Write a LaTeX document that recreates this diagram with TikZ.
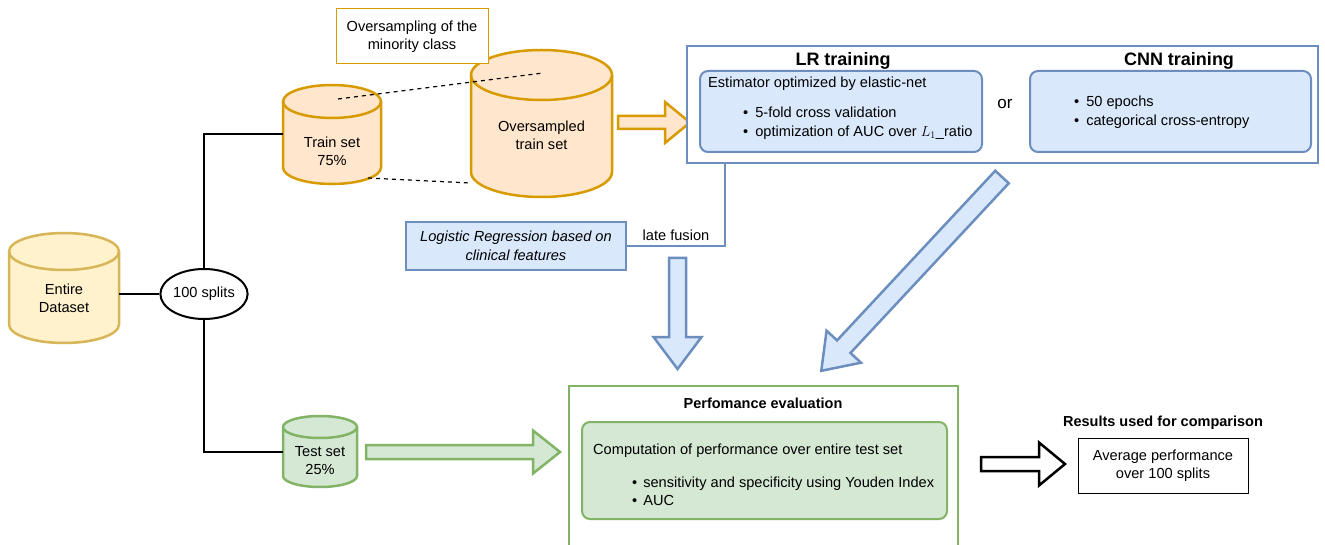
\documentclass[tikz,border=0pt]{standalone}
\usepackage{fontspec}
\setmainfont{Liberation Sans}
\usetikzlibrary{calc,shapes.geometric}
\definecolor{orS}{HTML}{D79B00}\definecolor{orF}{HTML}{FFE6CC}
\definecolor{yeS}{HTML}{D6B656}\definecolor{yeF}{HTML}{FFF2CC}
\definecolor{blS}{HTML}{6C8EBF}\definecolor{blF}{HTML}{DAE8FC}
\definecolor{grS}{HTML}{82B366}\definecolor{grF}{HTML}{D5E8D4}
% #1 style, #2 name, #3 left, #4 top, #5 right, #6 bottom, #7 ry, #8 text y, #9 text
\newcommand\dbcyl[9]{%
  \pgfmathsetmacro\myrx{(#5-#3)/2}%
  \path[#1] (#3,#4+#7) -- (#3,#6-#7) arc[start angle=180,end angle=0,x radius=\myrx,y radius=#7]
     -- (#5,#4+#7) arc[start angle=0,end angle=-180,x radius=\myrx,y radius=#7] -- cycle;
  \path[#1,fill=none] (#3,#4+#7) arc[start angle=180,end angle=0,x radius=\myrx,y radius=#7];
  \node[inner sep=0pt,minimum width={(#5-#3)*1pt},minimum height={(#6-#4)*1pt}] (#2) at ({(#3+#5)/2},{(#4+#6)/2}) {};
  \node[txt,align=center] (#2-label) at ({(#3+#5)/2},#8) {#9};
}
% #1 style, #2 x, #3 y, #4 angle, #5 length, #6 shaft half, #7 head half, #8 head length
\newcommand\blockarrow[8]{%
  \begin{scope}[shift={(#2,#3)},rotate=#4]
    \path[#1] (0,-#6) -- (#5-#8,-#6) -- (#5-#8,-#7) -- (#5,0) -- (#5-#8,#7) -- (#5-#8,#6) -- (0,#6) -- cycle;
  \end{scope}
}
\begin{document}
\begin{tikzpicture}[x=1pt,y=-1pt,
  txt/.style={font=\fontsize{14.6}{18}\selectfont,inner sep=0pt},
  head/.style={font=\fontsize{18}{22}\selectfont\bfseries,inner sep=0pt},
  subhead/.style={font=\fontsize{14.5}{17}\selectfont\bfseries,inner sep=0pt},
  conn/.style={line width=2pt,draw=black},
  cylOr/.style={draw=orS,fill=orF,line width=2.5pt},
  cylYe/.style={draw=yeS,fill=yeF,line width=2.5pt},
  cylGr/.style={draw=grS,fill=grF,line width=2.5pt},
  arrOr/.style={draw=orS,fill=orF,line width=2.5pt,line join=miter},
  arrBl/.style={draw=blS,fill=blF,line width=2.5pt,line join=miter},
  arrGr/.style={draw=grS,fill=grF,line width=2.5pt,line join=miter},
  arrBk/.style={draw=black,fill=white,line width=2.5pt,line join=miter},
  blbox/.style={draw=blS,fill=blF,line width=2pt,rounded corners=8pt,inner sep=0pt},
  grbox/.style={draw=grS,fill=grF,line width=2pt,rounded corners=8pt,inner sep=0pt},
  dashline/.style={draw=black,line width=1.2pt,dash pattern=on 4pt off 4pt}
]
\useasboundingbox (0,0) rectangle (1325,545);
\fill[white] (0,0) rectangle (1325,545);

% dataset and split
\dbcyl{cylYe}{entire}{9}{233}{119}{343}{18.5}{298}{Entire\\Dataset}
\node[draw=black,line width=2pt,ellipse,inner sep=0pt,minimum width=74pt,minimum height=50pt,txt] (split) at (204,294) {100 splits};
\draw[conn] (entire.east |- split.west) -- (split.west);

% train / test cylinders
\dbcyl{cylOr}{train}{283}{85}{381}{184}{16.5}{151}{Train set\\75\%}
\dbcyl{cylOr}{overs}{471}{50}{612}{197}{25}{135}{Oversampled\\train set}
\dbcyl{cylGr}{test}{283}{416}{357}{487}{11}{461}{Test set\\25\%}
\draw[conn] (split.north) |- (train.west);
\draw[conn] (split.south) |- (test.west);

% oversampling note
\node[draw=orS,line width=1pt,fill=white,txt,align=center,minimum width=152pt,minimum height=55pt] (note) at (412,36.5) {Oversampling of the\\minority class};
\coordinate (dA) at (338,99);
\coordinate (dB) at (543,73);
\coordinate (dC) at (368,178);
\coordinate (dD) at (470,183);
\draw[dashline] (dA) -- (dB);
\draw[dashline] (dC) -- (dD);

% orange arrow
\blockarrow{arrOr}{618}{122.5}{0}{72}{6.5}{20.5}{25}

% training frame
\node[draw=blS,line width=2pt,fill=white,minimum width=631pt,minimum height=117pt,inner sep=0pt] (frame) at (1002.5,104.5) {};
\node[head] (lrh) at (843,61) {LR training};
\node[head] (cnnh) at (1179,61) {CNN training};
\node[blbox,minimum width=282pt,minimum height=81pt] (lrbox) at (841,111.5) {};
\node[blbox,minimum width=281pt,minimum height=81pt] (cnnbox) at (1170.5,111.5) {};
\node[txt,anchor=west] (lrt) at (708,84) {Estimator optimized by elastic-net};
\node[txt,anchor=west,align=left,font=\fontsize{14.6}{19}\selectfont] (lrb) at (743,123.5)
  {\textbullet\hspace{7pt}5-fold cross validation\\\textbullet\hspace{7pt}optimization of AUC over $L_1$\_ratio};
\node[txt,font=\fontsize{17}{20}\selectfont] (or) at (1005,104) {or};
\node[txt,anchor=west,align=left,font=\fontsize{14.6}{19}\selectfont] (cnnb) at (1074,112.5)
  {\textbullet\hspace{7pt}50 epochs\\\textbullet\hspace{7pt}categorical cross-entropy};

% late fusion
\node[draw=blS,fill=blF,line width=1.5pt,minimum width=220pt,minimum height=48pt,txt,align=center,font=\fontsize{14.6}{19}\selectfont\itshape] (logit) at (516,246) {Logistic Regression based on\\clinical features};
\coordinate (fz) at (725,163);
\draw[draw=blS,line width=2pt] (fz) |- (logit.east);
\node[txt] (fusion) at (676,235) {late fusion};

% arrows to evaluation
\blockarrow{arrBl}{677.5}{258}{-90}{111}{8.5}{24}{32}
\blockarrow{arrBl}{1002}{177}{-133}{265}{9.2}{23.5}{33}
\blockarrow{arrGr}{366}{452}{0}{194}{7}{21.5}{27}

% performance evaluation
\node[draw=grS,line width=2pt,fill=white,minimum width=389pt,minimum height=164pt,inner sep=0pt] (perf) at (763.5,468) {};
\node[subhead] (perfh) at (763,403) {Perfomance evaluation};
\node[grbox,minimum width=365pt,minimum height=97pt] (perfbox) at (764.5,470.5) {};
\node[txt,anchor=west] (perft) at (593,451) {Computation of performance over entire test set};
\node[txt,anchor=west,align=left,font=\fontsize{14.6}{18.5}\selectfont] (perfb) at (632,491.5)
  {\textbullet\hspace{6pt}sensitivity and specificity using Youden Index\\\textbullet\hspace{6pt}AUC};

% results
\blockarrow{arrBk}{981}{464}{0}{84}{7}{21.5}{26}
\node[subhead] (resh) at (1163,423) {Results used for comparison};
\node[draw=black,line width=1pt,minimum width=170pt,minimum height=55pt,txt,align=center] (res) at (1163,465.5) {Average performance\\over 100 splits};
\end{tikzpicture}
\end{document}
